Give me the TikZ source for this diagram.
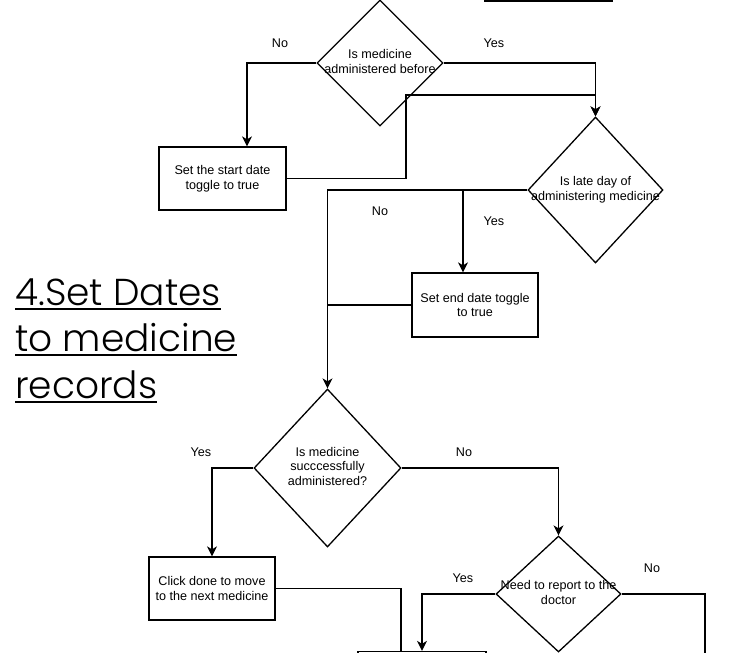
\documentclass[tikz,border=0pt]{standalone}
\usepackage{fontspec}
\setmainfont{Liberation Sans}
\newfontfamily\titlefont{Poppins}[UprightFont=* Light]
\usetikzlibrary{shapes.geometric,arrows.meta}
\newcommand{\zerowtext}[1]{\makebox[0pt]{\begin{tabular}{@{}c@{}}#1\end{tabular}}}
\begin{document}
\begin{tikzpicture}[x=1pt,y=-1pt,
  every node/.style={font=\fontsize{12.6}{14.6}\selectfont},
  procbox/.style={draw, rectangle, line width=1.3pt, inner sep=0pt, align=center,
    minimum width=127pt, minimum height=63pt},
  decision/.style={draw, diamond, line width=1.3pt, inner sep=0pt},
  conn/.style={line width=1.3pt},
  arr/.style={conn, -{Stealth[length=10pt,width=10pt,inset=3pt]}},
  lbl/.style={inner sep=0pt},
  titlestyle/.style={inner sep=0pt, anchor=base west, font=\titlefont\fontsize{37.5}{44}\selectfont},
  uline/.style={line width=1.8pt}
]
\useasboundingbox (0,0) rectangle (729,653);
\clip (0,0) rectangle (729,653);

% boxes
\node[procbox, minimum width=127pt, minimum height=64pt] (top) at (548.5,-31) {};
\node[procbox] (b1) at (222.5,178.5) {Set the start date\\toggle to true};
\node[procbox, minimum width=126pt, minimum height=64pt] (b2) at (475,305) {Set end date toggle\\to true};
\node[procbox, minimum width=126pt] (b3) at (212,588.5) {Click done to move\\to the next medicine};
\node[procbox, minimum width=128pt] (b4) at (422,683) {};

% decisions
\node[decision, minimum width=126pt, minimum height=126pt] (d1) at (380,63)
  {\zerowtext{Is medicine\\administered before}};
\node[decision, minimum width=135pt, minimum height=146pt] (d2) at (595.5,190)
  {\zerowtext{Is late day of\\administering medicine}};
\node[decision, minimum width=147pt, minimum height=158pt] (d3) at (327.5,468)
  {\zerowtext{Is medicine\\succcessfully\\administered?}};
\node[decision, minimum width=125pt, minimum height=116pt] (d4) at (558.5,594)
  {\zerowtext{Need to report to the\\doctor}};

% junction coordinates
\coordinate (j1) at (406,95);
\coordinate (j2) at (463,189);
\coordinate (j3) at (401,589);
\coordinate (j4) at (705,660);

% connectors
\draw[arr] (d1.west) -| ([xshift=24.5pt]b1.north);
\draw[arr] (d1.east) -| (d2.north);
\draw[arr] (b1.east) -| (j1) -| (d2.north);
\draw[arr] (d2.west) -| (d3.north);
\draw[arr] (j2) -- (j2 |- b2.north);
\draw[conn] (b2.west) -- (b2.west -| d3.north);
\draw[arr] (d3.west) -| (b3.north);
\draw[arr] (d3.east) -| (d4.north);
\draw[conn] (b3.east) -| (j3 |- b4.north);
\draw[arr] (d4.west) -| (b4.north);
\draw[conn] (d4.east) -| (j4);

% labels
\node[lbl] (l1) at (280,43) {No};
\node[lbl] (l2) at (494,43) {Yes};
\node[lbl] (l3) at (380,211) {No};
\node[lbl] (l4) at (494,221) {Yes};
\node[lbl] (l5) at (201,452) {Yes};
\node[lbl] (l6) at (464,452) {No};
\node[lbl] (l7) at (463,578) {Yes};
\node[lbl] (l8) at (652,568) {No};

% title
\node[titlestyle] (t1) at (15,305) {4.Set Dates};
\node[titlestyle] (t2) at (15,351) {to medicine};
\node[titlestyle] (t3) at (15,398) {records};
\draw[uline] ([yshift=-4pt]t1.base west) -- ([yshift=-4pt]t1.base east);
\draw[uline] ([yshift=-4pt]t2.base west) -- ([yshift=-4pt]t2.base east);
\draw[uline] ([yshift=-4pt]t3.base west) -- ([yshift=-4pt]t3.base east);
\end{tikzpicture}
\end{document}
